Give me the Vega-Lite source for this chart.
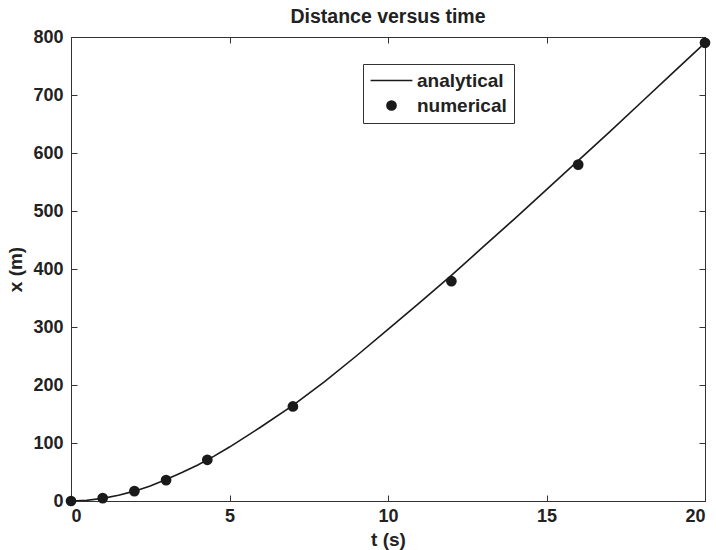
{
  "$schema": "https://vega.github.io/schema/vega-lite/v6.json",
  "width": 634,
  "height": 464,
  "autosize": {"type": "none"},
  "padding": {"left": 71, "top": 37, "right": 11, "bottom": 49},
  "background": "white",
  "title": {"text": "Distance versus time", "font": "Liberation Sans", "fontSize": 19.5, "fontWeight": "bold", "color": "#222222", "offset": 1, "anchor": "middle"},
  "config": {
    "view": {"stroke": "#333333", "strokeWidth": 1},
    "axis": {"labelFont": "Liberation Sans", "labelFontSize": 18, "labelFontWeight": "bold", "labelColor": "#222222", "titleFont": "Liberation Sans", "titleFontSize": 19, "titleFontWeight": "bold", "titleColor": "#222222", "grid": false, "domainColor": "#333333", "tickColor": "#333333", "tickSize": -6, "domain": true}
  },
  "datasets": {
    "analytical": [
      {"t": 0, "x": 0}, {"t": 0.5, "x": 1.2}, {"t": 1, "x": 4.5}, {"t": 1.5, "x": 10}, {"t": 2, "x": 17}, {"t": 2.5, "x": 26}, {"t": 3, "x": 37}, {"t": 3.5, "x": 49}, {"t": 4, "x": 62}, {"t": 4.5, "x": 77}, {"t": 5, "x": 93}, {"t": 6, "x": 128}, {"t": 7, "x": 165}, {"t": 8, "x": 206}, {"t": 9, "x": 250}, {"t": 10, "x": 296}, {"t": 11, "x": 342}, {"t": 12, "x": 389}, {"t": 13, "x": 438}, {"t": 14, "x": 487}, {"t": 15, "x": 537}, {"t": 16, "x": 587}, {"t": 17, "x": 637}, {"t": 18, "x": 688}, {"t": 19, "x": 739}, {"t": 20, "x": 790}
    ],
    "numerical": [
      {"t": 0, "x": 0, "series": "numerical"}, {"t": 1, "x": 5, "series": "numerical"}, {"t": 2, "x": 17, "series": "numerical"}, {"t": 3, "x": 36, "series": "numerical"}, {"t": 4.3, "x": 71, "series": "numerical"}, {"t": 7, "x": 163, "series": "numerical"}, {"t": 12, "x": 379, "series": "numerical"}, {"t": 16, "x": 580, "series": "numerical"}, {"t": 20, "x": 790, "series": "numerical"}
    ]
  },
  "layer": [
    {
      "data": {"name": "analytical"},
      "mark": {"type": "line", "color": "#1a1a1a", "strokeWidth": 1.6, "clip": true},
      "encoding": {
        "x": {"field": "t", "type": "quantitative", "scale": {"domain": [0, 20], "nice": false, "zero": false}, "axis": {"orient": "bottom", "values": [0, 5, 10, 15, 20], "title": "t (s)", "titlePadding": 5, "labelPadding": 12}},
        "y": {"field": "x", "type": "quantitative", "scale": {"domain": [0, 800], "nice": false}, "axis": {"orient": "left", "values": [0, 100, 200, 300, 400, 500, 600, 700, 800], "title": "x (m)", "titlePadding": 7, "labelPadding": 14}}
      }
    },
    {
      "data": {"name": "numerical"},
      "mark": {"type": "point", "filled": true, "color": "#1a1a1a", "opacity": 1, "size": 115, "clip": false},
      "encoding": {
        "x": {"field": "t", "type": "quantitative", "scale": {"domain": [0, 20], "nice": false, "zero": false}, "axis": {"orient": "top", "values": [0, 5, 10, 15, 20], "labels": false, "title": null, "domain": false}},
        "y": {"field": "x", "type": "quantitative", "scale": {"domain": [0, 800], "nice": false}, "axis": {"orient": "right", "values": [0, 100, 200, 300, 400, 500, 600, 700, 800], "labels": false, "title": null, "domain": false}},
        "shape": {"field": "series", "type": "nominal", "scale": {"domain": ["analytical", "numerical"], "range": ["M-3.9,-0.14H3.9V0.14H-3.9Z", "circle"]}, "legend": {"title": null, "orient": "none", "legendX": 292, "legendY": 27, "strokeColor": "#333333", "fillColor": "white", "padding": 7, "labelFont": "Liberation Sans", "labelFontSize": 19, "labelFontWeight": "bold", "labelColor": "#222222", "symbolSize": 115, "symbolFillColor": "#1a1a1a", "symbolStrokeColor": "#1a1a1a", "symbolStrokeWidth": 0, "symbolOffset": 12, "rowPadding": 5, "labelOffset": 16}}
      }
    }
  ],
  "resolve": {"axis": {"x": "independent", "y": "independent"}}
}
